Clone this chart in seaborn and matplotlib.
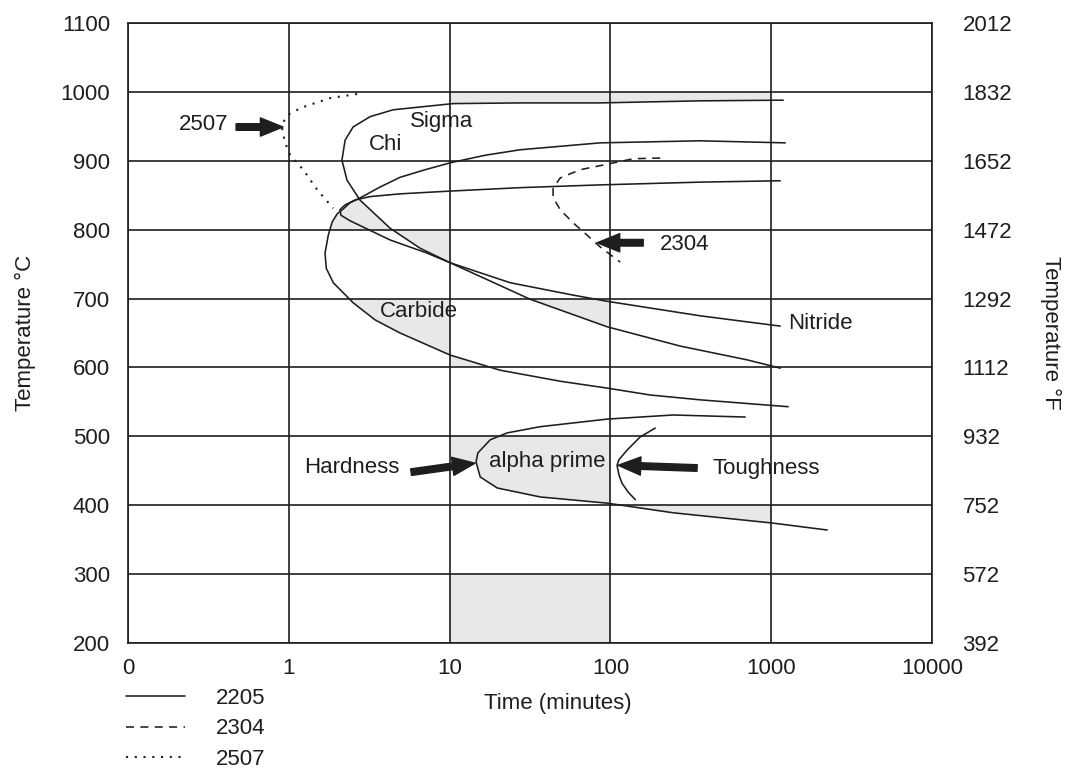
import numpy as np
import matplotlib
matplotlib.use("Agg")
import matplotlib.pyplot as plt
from matplotlib.patches import Polygon, Rectangle
from matplotlib.lines import Line2D
import seaborn as sns

sns.set_style("white")
plt.rcParams["font.family"] = ["Liberation Sans", "DejaVu Sans"]

# ---- axes values -------------------------------------------------------
time_ticks = [0.1, 1, 10, 100, 1000, 10000]
time_labels = ["0", "1", "10", "100", "1000", "10000"]
temp_c_ticks = [200, 300, 400, 500, 600, 700, 800, 900, 1000, 1100]
temp_f_ticks = [392, 572, 752, 932, 1112, 1292, 1472, 1652, 1832, 2012]

# ---- 2205 precipitation curves (time in minutes, temperature in °C) ----
sigma_t = [1188, 361, 86.3, 27.5, 10.5, 4.45, 3.20, 2.51, 2.24, 2.14,
           2.30, 2.77, 4.27, 6.56, 10.07, 31.7, 95.5, 272, 709, 1138]
sigma_T = [988, 987, 984, 984, 983, 974, 964, 949, 930, 901,
           872, 843, 802, 773, 752, 699, 659, 631, 611, 599]

chi_carbide_t = [1222, 361, 86.3, 48.7, 27.5, 16.6, 10.07, 7.04, 4.92, 3.70,
                 2.77, 2.40, 2.18, 2.00, 1.86, 1.76, 1.68, 1.71, 1.89, 2.51,
                 3.44, 4.92, 10.07, 20.6, 48.7, 95.5, 177, 361, 1276]
chi_carbide_T = [926, 929, 926, 921, 916, 908, 897, 887, 876, 862,
                 846, 839, 830, 823, 811, 792, 766, 744, 723, 694,
                 669, 650, 618, 596, 580, 570, 560, 553, 543]
NOSE = 10      # index where the chi branch meets the carbide nose
LOWER = 19     # first point of the carbide lower branch below 700 °C

nitride_t = [1138, 361, 86.3, 27.5, 10.07, 4.92, 3.20, 2.58, 2.24, 2.08,
             2.11, 2.40, 4.27, 7.24, 10.07, 23.8, 58.6, 95.5, 361, 1138]
nitride_T = [871, 869, 865, 861, 856, 852, 848, 843, 836, 829,
             821, 813, 785, 766, 752, 723, 705, 696, 675, 660]

alpha_t = [689, 246, 95.5, 36.6, 22.8, 17.9, 15.0, 14.6, 15.5, 19.8,
           36.6, 95.5, 246, 1029, 2230]
alpha_T = [528, 531, 525, 514, 505, 495, 476, 463, 441, 425,
           412, 403, 389, 374, 364]

toughness_t = [190, 153, 127, 113, 110, 113, 118, 129, 143]
toughness_T = [512, 499, 480, 466, 458, 444, 432, 419, 408]

# ---- comparison grades -------------------------------------------------
g2304_t = [204, 139, 95.5, 64.8, 48.7, 44.0, 44.0, 48.7, 58.6, 71.6, 86.3, 115]
g2304_T = [904, 903, 895, 887, 875, 860, 847, 829, 810, 792, 775, 753]

g2507_t = [2.66, 1.81, 1.23, 1.02, 0.92, 0.91, 0.95, 1.02, 1.23, 1.50, 1.89]
g2507_T = [997, 991, 978, 969, 956, 945, 926, 908, 887, 858, 831]

INK = "#1e1e1e"
SHADE = "#e8e8e8"
FS = 16

fig = plt.figure(figsize=(10.74, 7.80), dpi=100)
ax = fig.add_axes([128 / 1074, 1 - 643 / 780, 804 / 1074, 620 / 780])
ax.set_xscale("log")
ax.set_xlim(time_ticks[0], time_ticks[-1])
ax.set_ylim(temp_c_ticks[0], temp_c_ticks[-1])


def shade(t, T, cells):
    """Fill the region t/T, keeping only the parts inside the given grid cells."""
    for (t0, t1, T0, T1) in cells:
        poly = Polygon(np.column_stack([t, T]), closed=True, facecolor=SHADE,
                       edgecolor="none", zorder=0.3, transform=ax.transData)
        ax.add_patch(poly)
        clip = Rectangle((t0, T0), t1 - t0, T1 - T0, transform=ax.transData)
        poly.set_clip_path(clip)


ct, cT = chi_carbide_t, chi_carbide_T
# band under the 1000 °C line along the top of the sigma curve
shade(sigma_t[:6] + [sigma_t[5], sigma_t[0]],
      sigma_T[:6] + [1000, 1000], [(10, 1000, 900, 1000)])
# wedge between the carbide nose and the sigma lower branch
shade(sigma_t[11:15] + ct[NOSE + 6:NOSE - 1:-1],
      sigma_T[11:15] + cT[NOSE + 6:NOSE - 1:-1], [(1, 10, 800, 900)])
# above the sigma lower branch
shade(sigma_t[11:] + [sigma_t[-1], sigma_t[11]],
      sigma_T[11:] + [1100, 1100], [(1, 10, 700, 800), (10, 100, 600, 700)])
# inside the carbide curve
shade(ct[NOSE:LOWER + 5] + [ct[LOWER + 4], ct[NOSE]],
      cT[NOSE:LOWER + 5] + [1100, 1100], [(1, 10, 600, 700)])
# below the carbide lower branch
shade(ct[LOWER:] + [ct[-1], ct[LOWER]],
      cT[LOWER:] + [200, 200], [(10, 100, 600, 700)])
# alpha prime
shade(alpha_t[7:] + [alpha_t[-1], time_ticks[0], time_ticks[0]],
      alpha_T[7:] + [1100, 1100, alpha_T[7]],
      [(10, 100, 400, 500), (100, 1000, 300, 400)])
# low-temperature block
ax.fill_between([10, 100], 200, 300, color=SHADE, lw=0, zorder=0.3)

# ---- curves ------------------------------------------------------------
solid = dict(color=INK, lw=1.15, sort=False, estimator=None, ax=ax, zorder=3)
for t, T in [(sigma_t, sigma_T), (chi_carbide_t, chi_carbide_T),
             (nitride_t, nitride_T), (alpha_t, alpha_T),
             (toughness_t, toughness_T)]:
    sns.lineplot(x=t, y=T, **solid)

sns.lineplot(x=g2304_t, y=g2304_T, color=INK, lw=1.15, sort=False,
             estimator=None, ax=ax, zorder=3, linestyle=(0, (5, 4)))
sns.lineplot(x=g2507_t, y=g2507_T, color=INK, lw=1.5, sort=False,
             estimator=None, ax=ax, zorder=3, linestyle=(0, (1, 3.2)))

# ---- grid, ticks and spines --------------------------------------------
ax.set_axisbelow(True)
ax.set_xticks(time_ticks)
ax.set_xticklabels(time_labels)
ax.xaxis.set_minor_locator(matplotlib.ticker.NullLocator())
ax.set_yticks(temp_c_ticks)
ax.grid(True, which="major", color=INK, lw=1.2)
ax.tick_params(axis="x", length=0, pad=11, labelsize=FS, colors=INK)
ax.tick_params(axis="y", length=0, pad=13, labelsize=FS, colors=INK)
for s in ax.spines.values():
    s.set_color(INK)
    s.set_linewidth(1.2)

ax2 = ax.twinx()
ax2.set_ylim(temp_f_ticks[0], temp_f_ticks[-1])
ax2.set_yticks(temp_f_ticks)
ax2.tick_params(axis="y", length=0, pad=22, labelsize=FS, colors=INK)
for s in ax2.spines.values():
    s.set_visible(False)

ax.set_xlabel("Time (minutes)", fontsize=FS, color=INK, va="center")
ax.xaxis.set_label_coords(0.534, -0.097)
ax.set_ylabel("Temperature °C", fontsize=FS, color=INK, va="center")
ax.yaxis.set_label_coords(-0.128, 0.5)
ax2.set_ylabel("Temperature °F", fontsize=FS, color=INK, rotation=270,
               va="center")
ax2.yaxis.set_label_coords(1.147, 0.5)

# ---- phase labels --------------------------------------------------------
txt = dict(fontsize=FS, color=INK, va="center", zorder=5)
ax.text(8.9, 957, "Sigma", ha="center", **txt)
ax.text(4.0, 923, "Chi", ha="center", **txt)
ax.text(6.4, 681, "Carbide", ha="center", **txt)
ax.text(1276, 664, "Nitride", ha="left", **txt)
ax.text(40.4, 463, "alpha prime", ha="center", **txt)
ax.text(4.85, 455, "Hardness", ha="right", **txt)
ax.text(430, 454, "Toughness", ha="left", **txt)
ax.text(204, 778, "2304", ha="left", **txt)
ax.text(0.42, 952, "2507", ha="right", **txt)

arrow = dict(arrowstyle="simple,head_length=1.3,head_width=1.05,tail_width=0.38",
             color=INK, shrinkA=0, shrinkB=0, mutation_scale=12.5)
for tip, tail in [((0.92, 949), (0.47, 949)),
                  ((82.7, 781), (160, 781)),
                  ((14.4, 461), (5.76, 448)),
                  ((111.7, 458), (346, 454))]:
    ax.annotate("", xy=tip, xytext=tail, arrowprops=arrow, zorder=6)

# ---- line style key ----------------------------------------------------
handles = [Line2D([], [], color=INK, lw=1.15, linestyle="-"),
           Line2D([], [], color=INK, lw=1.15, linestyle=(0, (5, 4))),
           Line2D([], [], color=INK, lw=1.5, linestyle=(0, (1, 3.2)))]
fig.legend(handles, ["2205", "2304", "2507"], loc="upper left",
           bbox_to_anchor=(126 / 1074, 1 - 688 / 780), frameon=False,
           fontsize=FS, handlelength=2.65, handletextpad=1.4,
           labelspacing=0.42, borderpad=0, borderaxespad=0,
           labelcolor=INK)

fig.savefig("out.png", dpi=100)
